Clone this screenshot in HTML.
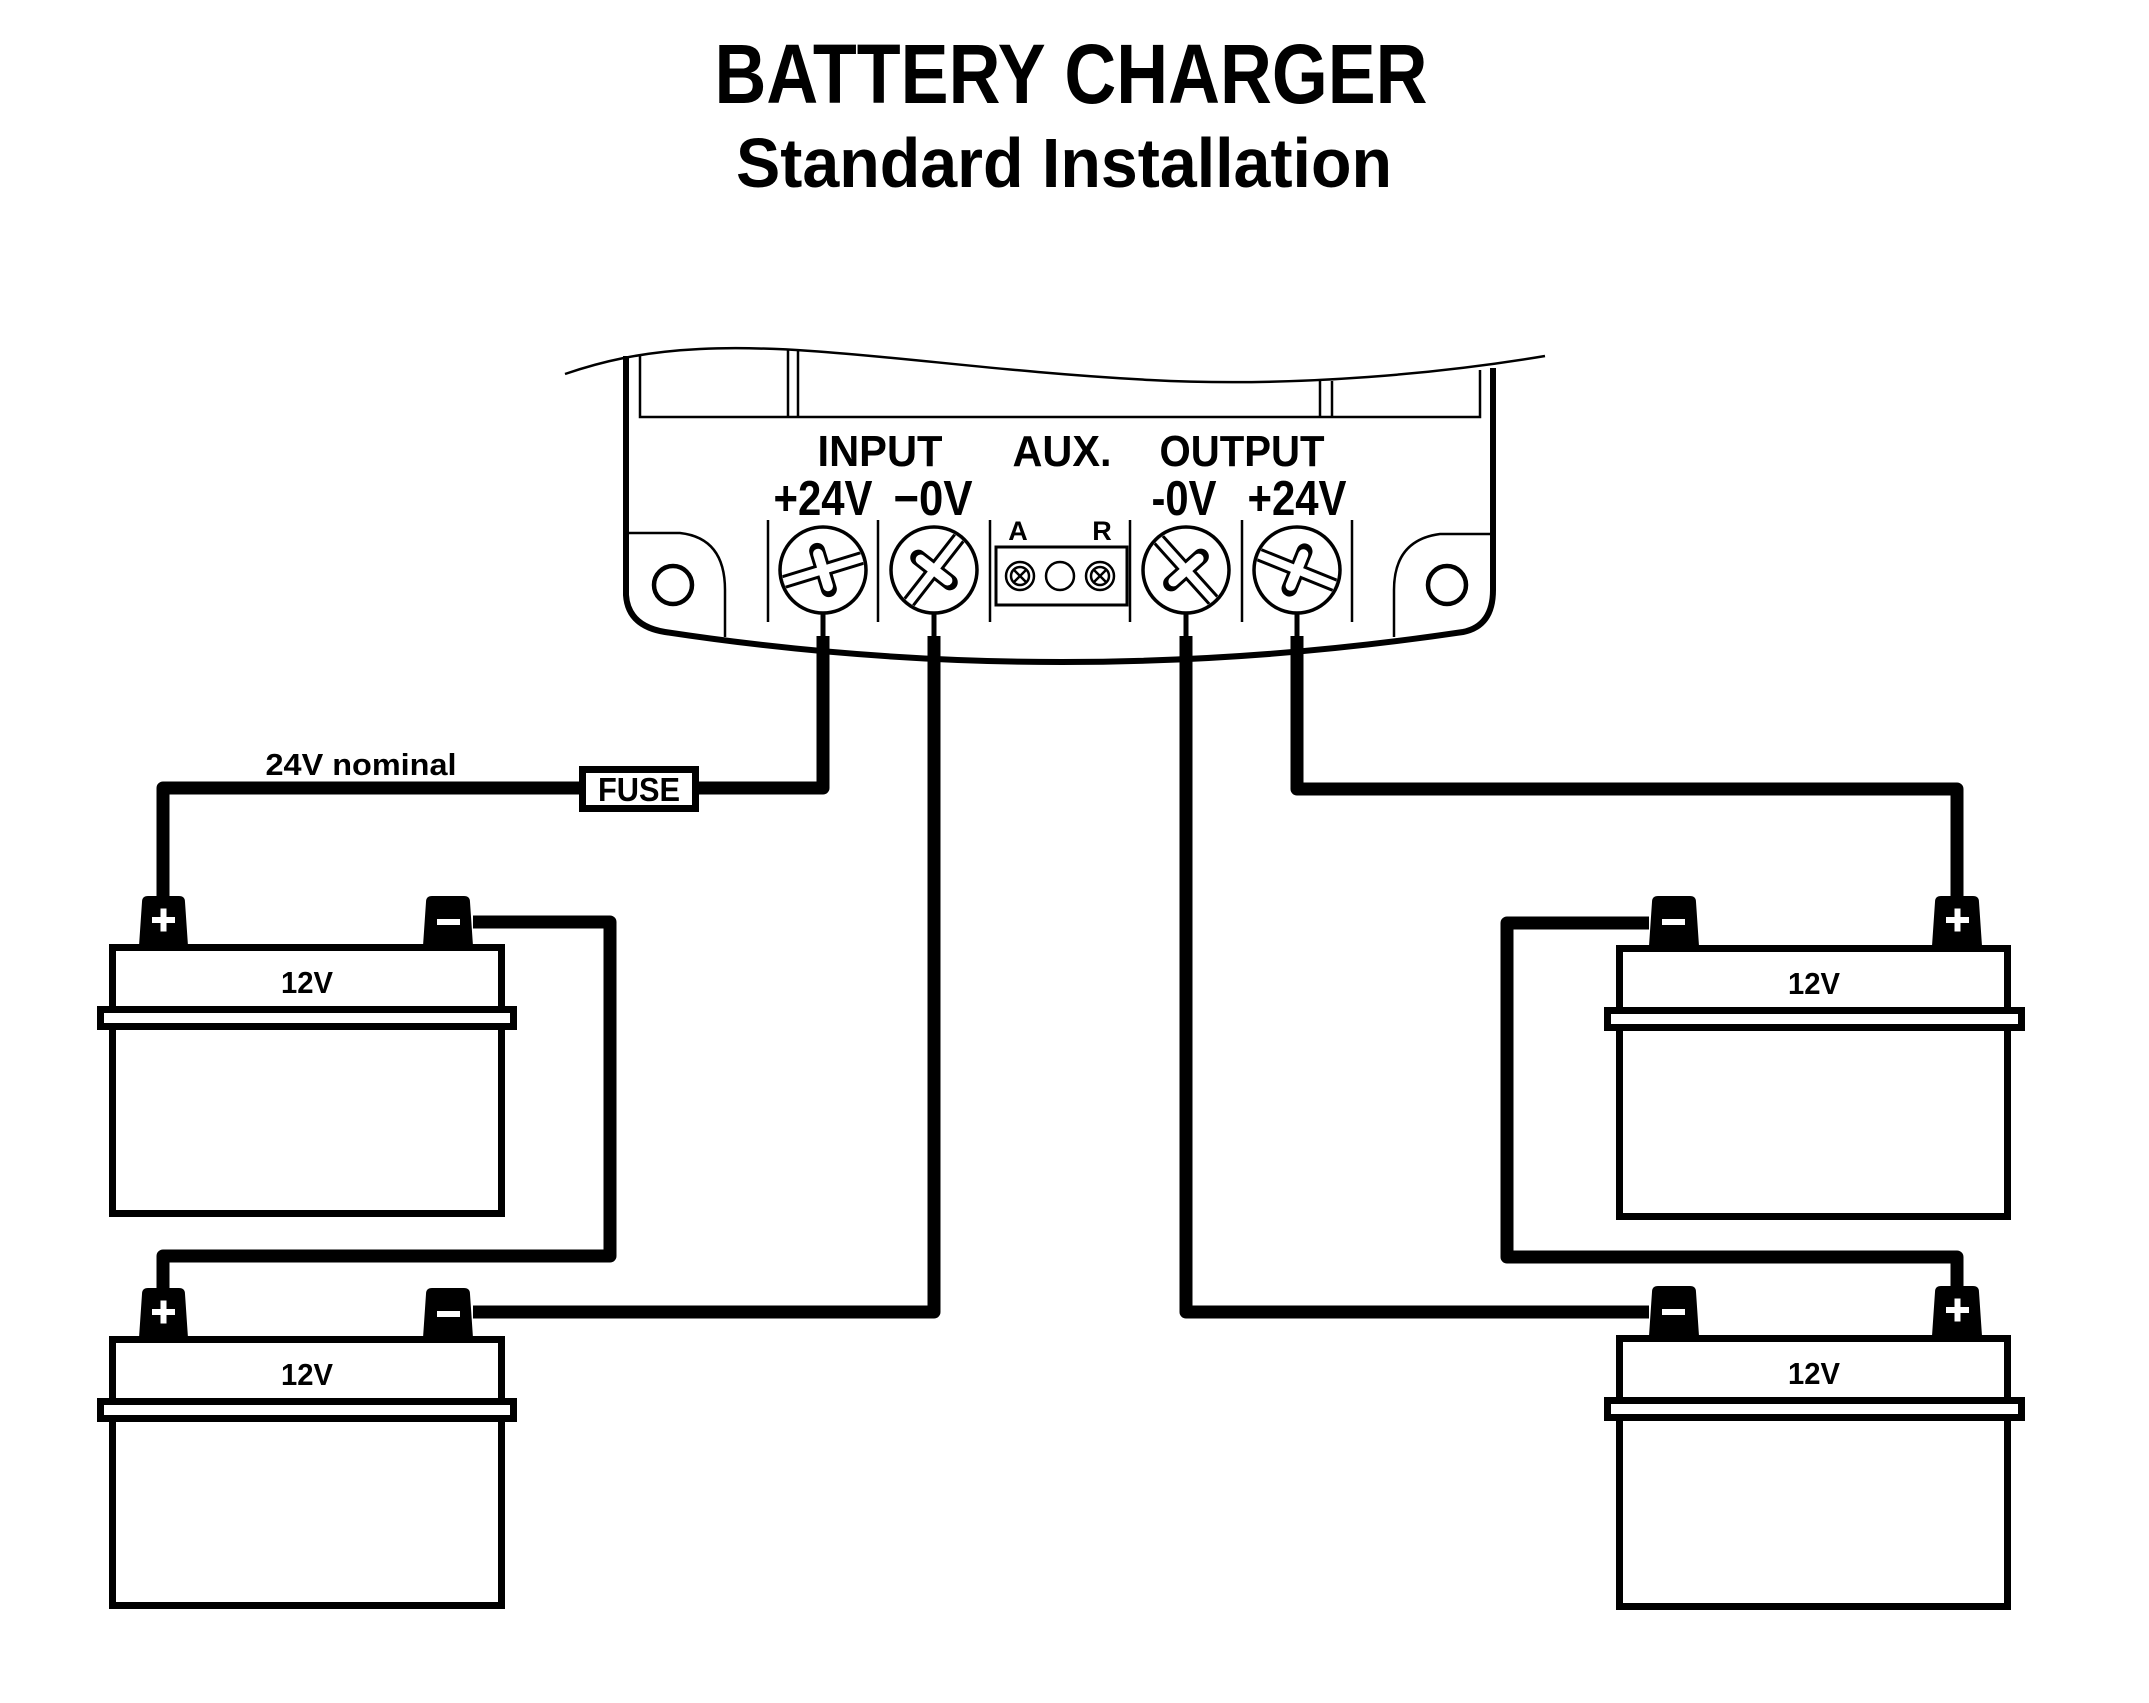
<!DOCTYPE html>
<html><head><meta charset="utf-8"><style>
html,body{margin:0;padding:0;background:#fff;}
svg{display:block;}
text{font-family:"Liberation Sans Narrow","Liberation Sans",sans-serif;fill:#000;}
</style></head><body>
<svg width="2149" height="1703" viewBox="0 0 2149 1703" xmlns="http://www.w3.org/2000/svg">
<defs>
<clipPath id="c1"><circle cx="0" cy="0" r="41"/></clipPath>
<g id="screwbase">
  <circle cx="0" cy="0" r="43" fill="#fff" stroke="#000" stroke-width="3.5"/>
</g>
</defs>

<!-- Title -->
<text x="1071" y="103" font-size="84" font-weight="bold" text-anchor="middle" textLength="713" lengthAdjust="spacingAndGlyphs">BATTERY CHARGER</text>
<text x="1064" y="187" font-size="70" font-weight="bold" text-anchor="middle" textLength="656" lengthAdjust="spacingAndGlyphs">Standard Installation</text>

<!-- Charger body -->
<path d="M565,374 C600,362 640,352 700,349 C820,343 960,370 1150,380 C1300,388 1450,372 1545,356" fill="none" stroke="#000" stroke-width="2.5"/>
<path d="M626,356 L626,595 Q628,626 665,632 Q1060,692 1463,632 Q1493,626 1493,590 L1493,368" fill="none" stroke="#000" stroke-width="6"/>
<path d="M640,354 L640,417 L1480,417 L1480,370" fill="none" stroke="#000" stroke-width="2.5"/>
<line x1="788" y1="349" x2="788" y2="417" stroke="#000" stroke-width="2.5"/>
<line x1="798" y1="349" x2="798" y2="417" stroke="#000" stroke-width="2.5"/>
<line x1="1320" y1="381" x2="1320" y2="417" stroke="#000" stroke-width="2.5"/>
<line x1="1332" y1="381" x2="1332" y2="417" stroke="#000" stroke-width="2.5"/>
<!-- tabs -->
<path d="M626,533 L680,533 Q725,538 725,590 L725,637" fill="none" stroke="#000" stroke-width="2.5"/>
<path d="M1493,534 L1440,534 Q1394,540 1394,590 L1394,637" fill="none" stroke="#000" stroke-width="2.5"/>
<circle cx="673" cy="585" r="19" fill="none" stroke="#000" stroke-width="4.5"/>
<circle cx="1447" cy="585" r="19" fill="none" stroke="#000" stroke-width="4.5"/>

<!-- Labels -->
<text x="880" y="466" font-size="44" font-weight="bold" text-anchor="middle" textLength="125" lengthAdjust="spacingAndGlyphs">INPUT</text>
<text x="1062" y="466" font-size="44" font-weight="bold" text-anchor="middle" textLength="99" lengthAdjust="spacingAndGlyphs">AUX.</text>
<text x="1242" y="466" font-size="44" font-weight="bold" text-anchor="middle" textLength="165" lengthAdjust="spacingAndGlyphs">OUTPUT</text>
<text x="823" y="515" font-size="49" font-weight="bold" text-anchor="middle" textLength="99" lengthAdjust="spacingAndGlyphs">+24V</text>
<text x="933" y="515" font-size="49" font-weight="bold" text-anchor="middle" textLength="79" lengthAdjust="spacingAndGlyphs">−0V</text>
<text x="1184" y="515" font-size="49" font-weight="bold" text-anchor="middle" textLength="65" lengthAdjust="spacingAndGlyphs">-0V</text>
<text x="1297" y="515" font-size="49" font-weight="bold" text-anchor="middle" textLength="99" lengthAdjust="spacingAndGlyphs">+24V</text>

<!-- dividers -->
<g stroke="#000" stroke-width="2.5">
<line x1="768" y1="520" x2="768" y2="622"/><line x1="878" y1="520" x2="878" y2="622"/>
<line x1="990" y1="520" x2="990" y2="622"/><line x1="1130" y1="520" x2="1130" y2="622"/>
<line x1="1242" y1="520" x2="1242" y2="622"/><line x1="1352" y1="520" x2="1352" y2="622"/>
</g>

<!-- AUX block -->
<text x="1018" y="540" font-size="27" font-weight="bold" text-anchor="middle">A</text>
<text x="1102" y="540" font-size="27" font-weight="bold" text-anchor="middle">R</text>
<rect x="996" y="547" width="131" height="58" fill="none" stroke="#000" stroke-width="3"/>
<g fill="none" stroke="#000" stroke-width="2.5">
<circle cx="1020" cy="576" r="14"/><circle cx="1060" cy="576" r="14"/><circle cx="1100" cy="576" r="14"/>
<circle cx="1020" cy="576" r="9"/><circle cx="1100" cy="576" r="9"/>
<path d="M1013,569 L1027,583 M1027,569 L1013,583 M1093,569 L1107,583 M1107,569 L1093,583"/>
</g>

<!-- Screws -->
<g transform="translate(823,570)">
 <use href="#screwbase"/>
 <g clip-path="url(#c1)" transform="rotate(-17)">
  <line x1="-50" y1="0" x2="50" y2="0" stroke="#000" stroke-width="14"/>
  <line x1="0" y1="-20" x2="0" y2="20" stroke="#000" stroke-width="16" stroke-linecap="round"/>
  <line x1="-50" y1="0" x2="50" y2="0" stroke="#fff" stroke-width="8"/>
  <line x1="0" y1="-17" x2="0" y2="17" stroke="#fff" stroke-width="10" stroke-linecap="round"/>
 </g>
</g>
<g transform="translate(934,570)">
 <use href="#screwbase"/>
 <g clip-path="url(#c1)" transform="rotate(-52)">
  <line x1="-50" y1="0" x2="50" y2="0" stroke="#000" stroke-width="14"/>
  <line x1="0" y1="-20" x2="0" y2="20" stroke="#000" stroke-width="16" stroke-linecap="round"/>
  <line x1="-50" y1="0" x2="50" y2="0" stroke="#fff" stroke-width="8"/>
  <line x1="0" y1="-17" x2="0" y2="17" stroke="#fff" stroke-width="10" stroke-linecap="round"/>
 </g>
</g>
<g transform="translate(1186,570)">
 <use href="#screwbase"/>
 <g clip-path="url(#c1)" transform="rotate(48)">
  <line x1="-50" y1="0" x2="50" y2="0" stroke="#000" stroke-width="14"/>
  <line x1="0" y1="-20" x2="0" y2="20" stroke="#000" stroke-width="16" stroke-linecap="round"/>
  <line x1="-50" y1="0" x2="50" y2="0" stroke="#fff" stroke-width="8"/>
  <line x1="0" y1="-17" x2="0" y2="17" stroke="#fff" stroke-width="10" stroke-linecap="round"/>
 </g>
</g>
<g transform="translate(1297,570)">
 <use href="#screwbase"/>
 <g clip-path="url(#c1)" transform="rotate(22)">
  <line x1="-50" y1="0" x2="50" y2="0" stroke="#000" stroke-width="14"/>
  <line x1="0" y1="-20" x2="0" y2="20" stroke="#000" stroke-width="16" stroke-linecap="round"/>
  <line x1="-50" y1="0" x2="50" y2="0" stroke="#fff" stroke-width="8"/>
  <line x1="0" y1="-17" x2="0" y2="17" stroke="#fff" stroke-width="10" stroke-linecap="round"/>
 </g>
</g>

<!-- screw stubs -->
<g stroke="#000" stroke-width="5">
<line x1="823" y1="612" x2="823" y2="640"/><line x1="934" y1="612" x2="934" y2="640"/>
<line x1="1186" y1="612" x2="1186" y2="640"/><line x1="1297" y1="612" x2="1297" y2="640"/>
</g>

<!-- Wires -->
<g fill="none" stroke="#000" stroke-width="13" stroke-linejoin="round">
<path d="M823,636 L823,788 L699,788"/>
<path d="M579,788 L163,788 L163,900"/>
<path d="M934,636 L934,1312 L473,1312"/>
<path d="M1186,636 L1186,1312 L1649,1312"/>
<path d="M1297,636 L1297,789 L1957,789 L1957,900"/>
<path d="M473,922 L610,922 L610,1256 L163,1256 L163,1292"/>
<path d="M1649,923 L1507,923 L1507,1257 L1957,1257 L1957,1292"/>
</g>

<!-- Fuse -->
<rect x="582.5" y="769.5" width="113" height="39" fill="#fff" stroke="#000" stroke-width="7"/>
<text x="639" y="801" font-size="33" font-weight="bold" text-anchor="middle" textLength="82" lengthAdjust="spacingAndGlyphs">FUSE</text>
<text x="361" y="775" font-size="31" font-weight="bold" text-anchor="middle" textLength="191" lengthAdjust="spacingAndGlyphs">24V nominal</text>

<!-- Batteries -->
<g id="batL">
 <path d="M139,946 L142,902 Q142,896 148,896 L179,896 Q185,896 185,902 L188,946 Z" fill="#000"/>
 <path d="M423,946 L426,902 Q426,896 432,896 L464,896 Q470,896 470,902 L473,946 Z" fill="#000"/>
 <rect x="152" y="917" width="23" height="6" fill="#fff"/><rect x="160.5" y="908.5" width="6" height="23" fill="#fff"/>
 <rect x="437" y="919" width="23" height="6" fill="#fff"/>
 <rect x="112.5" y="947.5" width="389" height="266" fill="#fff" stroke="#000" stroke-width="7"/>
 <rect x="100.5" y="1009.5" width="413" height="17" fill="#fff" stroke="#000" stroke-width="7"/>
 <text x="307" y="993" font-size="31" text-anchor="middle" font-weight="bold" textLength="52" lengthAdjust="spacingAndGlyphs">12V</text>
</g>
<use href="#batL" transform="translate(0,392)"/>

<g id="batR">
 <path d="M1649,946 L1652,902 Q1652,896 1658,896 L1690,896 Q1696,896 1696,902 L1699,946 Z" fill="#000"/>
 <path d="M1932,946 L1935,902 Q1935,896 1941,896 L1973,896 Q1979,896 1979,902 L1982,946 Z" fill="#000"/>
 <rect x="1662" y="919" width="23" height="6" fill="#fff"/>
 <rect x="1946" y="917" width="23" height="6" fill="#fff"/><rect x="1954.5" y="908.5" width="6" height="23" fill="#fff"/>
 <rect x="1619.5" y="948.5" width="388" height="268" fill="#fff" stroke="#000" stroke-width="7"/>
 <rect x="1607.5" y="1010.5" width="414" height="17" fill="#fff" stroke="#000" stroke-width="7"/>
 <text x="1814" y="994" font-size="31" text-anchor="middle" font-weight="bold" textLength="52" lengthAdjust="spacingAndGlyphs">12V</text>
</g>
<use href="#batR" transform="translate(0,390)"/>
</svg>
</body></html>
